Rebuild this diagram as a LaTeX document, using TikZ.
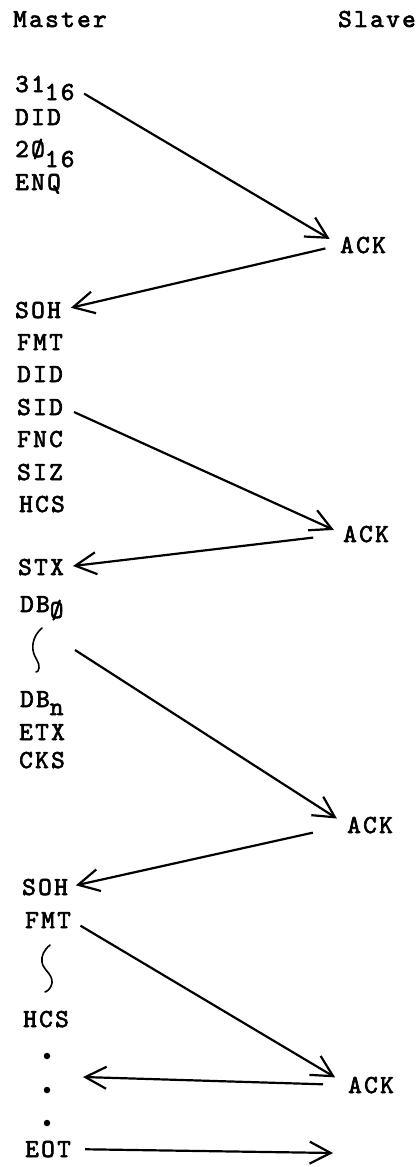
\documentclass[tikz,border=0pt]{standalone}
\usepackage{fontspec}
\newfontfamily\ttwriter{lmmono10-regular.otf}[LetterSpace=9, FakeBold=2.5]
\usetikzlibrary{arrows.meta}

\begin{document}
\begin{tikzpicture}[x=1pt, y=-1pt,
    lbl/.style={anchor=base west, inner sep=0pt,
      font=\ttwriter\fontsize{26}{30}\selectfont},
    msg/.style={-{Straight Barb[length=21pt, width=22pt]}, line width=2.2pt},
    gap/.style={line width=1.6pt, line cap=round},
    dotnode/.style={circle, fill, inner sep=0pt, minimum size=6.5pt}]
  \useasboundingbox (0,0) rectangle (419,1167);

  \node[lbl] (master) at (13,27) {Master};
  \node[lbl] (slave) at (338,27) {Slave};

  % master column
  \node[lbl] (m31) at (15,92) {31\raisebox{-8pt}{16}};
  \node[lbl] (did1) at (15,125) {DID};
  \node[lbl] (m20) at (15,157) {2Ø\raisebox{-10pt}{16}};
  \node[lbl] (enq) at (15,190) {ENQ};
  \node[lbl] (soh1) at (15,318) {SOH};
  \node[lbl] (fmt1) at (17,350) {FMT};
  \node[lbl] (did2) at (17,382) {DID};
  \node[lbl] (sid) at (17,415) {SID};
  \node[lbl] (fnc) at (17,447) {FNC};
  \node[lbl] (siz) at (17,480) {SIZ};
  \node[lbl] (hcs1) at (19,512) {HCS};
  \node[lbl] (stx) at (18,575) {STX};
  \node[lbl] (db0) at (20,612) {DB\raisebox{-6pt}{Ø}};
  \node[lbl] (dbn) at (20,707) {DB\raisebox{-8pt}{n}};
  \node[lbl] (etx) at (19,740) {ETX};
  \node[lbl] (cks) at (19,768) {CKS};
  \node[lbl] (soh2) at (22,895) {SOH};
  \node[lbl] (fmt2) at (25,928) {FMT};
  \node[lbl] (hcs2) at (23,1027) {HCS};
  \node[dotnode] (dot1) at (47,1056) {};
  \node[dotnode] (dot2) at (47,1090) {};
  \node[dotnode] (dot3) at (47,1123) {};
  \node[lbl] (eot) at (25,1157) {EOT};

  % slave column
  \node[lbl] (ack1) at (340,253) {ACK};
  \node[lbl] (ack2) at (343,542) {ACK};
  \node[lbl] (ack3) at (347,833) {ACK};
  \node[lbl] (ack4) at (348,1093) {ACK};

  % skipped bytes
  \draw[gap] (42,628) .. controls (35,634) and (32,642) .. (33,650)
    .. controls (34,658) and (40,662) .. (39,668)
    .. controls (39,671) and (37,672) .. (36,672);
  \draw[gap] (50,945) .. controls (44,950) and (41,956) .. (42,962)
    .. controls (43,970) and (53,974) .. (52,983)
    .. controls (51,988) and (48,991) .. (45,992);

  \coordinate (dbgap) at (75,650);
  \coordinate (dotsgap) at (83,1077);
  \coordinate (eotend) at (333,1153);

  \draw[msg, shorten <=11pt, shorten >=12pt] (m31.east) -- (ack1.west);
  \draw[msg, shorten <=15pt, shorten >=10pt] (ack1.west) -- (soh1.east);
  \draw[msg, shorten <=12pt, shorten >=10pt] (sid.east) -- (ack2.west);
  \draw[msg, shorten <=30pt, shorten >=9pt] (ack2.west) -- (stx.east);
  \draw[msg, shorten >=12pt] (dbgap) -- (ack3.west);
  \draw[msg, shorten <=35pt, shorten >=8pt] (ack3.west) -- (soh2.east);
  \draw[msg, shorten <=11pt, shorten >=15pt] (fmt2.east) -- (ack4.west);
  \draw[msg, shorten <=25pt] (ack4.west) -- (dotsgap);
  \draw[msg, shorten <=14pt] (eot.east) -- (eotend);
\end{tikzpicture}
\end{document}
